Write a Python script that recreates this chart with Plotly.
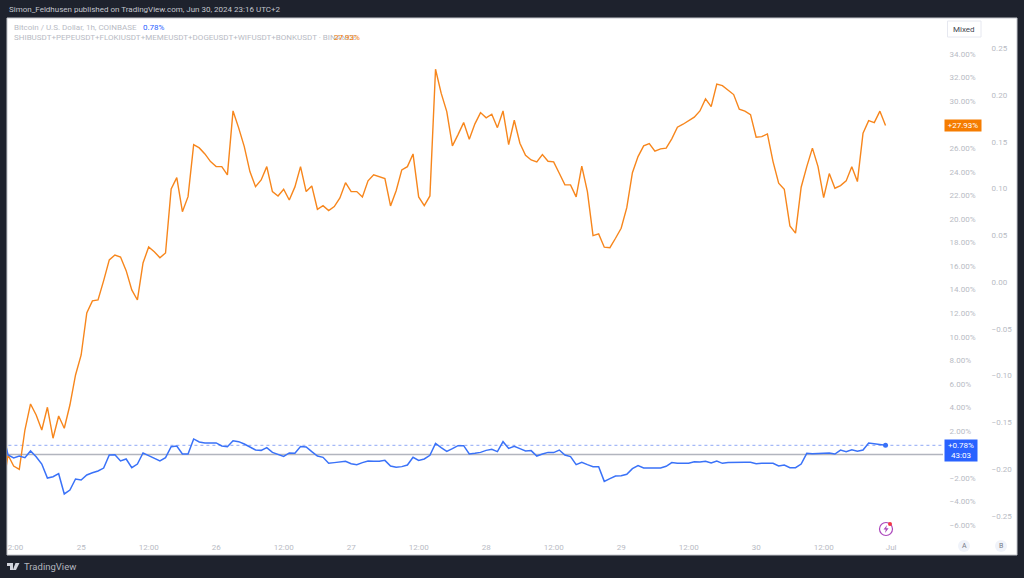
import pandas as pd
import plotly.graph_objects as go

# Percent change series, hourly (first value lies just outside the visible range)
memes_pct = [-3.0,
 -0.04,-0.98,-1.26,2.08,4.29,3.35,2.08,4.01,1.38,3.27,2.23,4.20,6.75,8.45,12.02,13.04,13.12,14.76,16.52,16.94,
 16.77,15.61,13.97,13.12,16.26,17.62,17.22,16.71,17.11,22.55,23.51,20.62,21.89,26.31,26.03,25.52,24.87,24.44,24.44,23.74,
 29.17,27.73,26.14,24.02,22.74,23.31,24.44,22.32,21.95,22.52,21.61,22.72,24.44,22.32,22.80,20.82,21.13,20.71,21.05,21.78,
 23.08,22.32,22.32,21.87,23.23,23.74,23.59,23.42,21.10,22.40,24.16,24.44,25.52,21.87,21.13,21.95,32.71,30.68,29.11,26.20,
 27.16,28.18,26.77,28.07,29.03,28.58,28.89,27.75,29.17,26.31,28.38,26.43,25.41,25.01,24.84,25.46,24.90,24.84,23.88,22.89,
 22.89,21.87,24.48,22.32,18.58,18.73,17.60,17.56,18.36,19.21,20.96,23.93,25.29,26.20,26.40,25.75,25.95,26.01,26.80,27.79,
 28.04,28.32,28.64,29.17,30.19,29.54,31.44,31.32,30.96,30.56,29.32,29.15,28.86,26.94,26.99,27.22,24.87,23.03,22.52,19.41,
 18.79,22.69,24.44,26.01,24.44,21.81,23.85,22.61,22.83,23.23,24.44,23.17,27.28,28.35,28.18,29.15,27.93]

btc_pct = [2.0,
 -0.04,-0.30,-0.13,-0.27,0.30,-0.19,-0.81,-2.00,-1.89,-1.63,-3.35,-3.02,-2.08,-2.17,-1.74,-1.55,-1.40,-1.15,-0.04,-0.02,
 -0.55,-0.38,-1.12,-0.81,0.13,-0.10,-0.30,-0.55,-0.27,0.66,0.72,0.04,0.04,1.32,1.06,0.98,0.98,0.98,0.72,0.66,1.17,1.09,
 0.89,0.61,0.38,0.35,0.58,0.18,-0.01,-0.16,0.13,0.10,0.67,0.64,0.24,-0.13,-0.24,-0.75,-0.69,-0.64,-0.58,-0.78,-0.86,-0.69,
 -0.55,-0.58,-0.58,-0.50,-0.98,-1.09,-1.03,-0.89,-0.24,-0.50,-0.38,-0.07,0.95,0.58,0.27,0.50,0.75,0.75,0.04,0.10,0.18,0.35,
 0.44,0.24,1.09,0.52,0.69,0.50,0.30,0.33,-0.13,0.04,0.18,0.16,0.38,
 -0.04,-0.18,-0.86,-0.66,-0.86,-1.03,-1.03,-2.28,-2.05,-1.83,-1.80,-1.68,-1.20,-0.95,-1.15,-1.17,-1.15,-1.15,-1.00,-0.69,
 -0.75,-0.78,-0.75,-0.61,-0.64,-0.58,-0.72,-0.55,-0.75,-0.69,-0.66,-0.66,-0.66,-0.66,-0.78,-0.75,-0.72,-0.75,-0.98,-0.89,
 -1.12,-1.12,-0.81,0.10,0.07,0.07,0.10,0.13,0.04,0.38,0.24,0.41,0.27,0.38,0.98,0.92,0.86,0.78]

times = pd.date_range("2024-06-24 10:00", periods=len(memes_pct), freq="h")

x_tick_vals = ["2024-06-24 12:20", "2024-06-25 00:00", "2024-06-25 12:00", "2024-06-26 00:00", "2024-06-26 12:00",
               "2024-06-27 00:00", "2024-06-27 12:00", "2024-06-28 00:00", "2024-06-28 12:00", "2024-06-29 00:00",
               "2024-06-29 12:00", "2024-06-30 00:00", "2024-06-30 12:00", "2024-07-01 00:00"]
x_tick_text = ["2:00", "25", "12:00", "26", "12:00", "27", "12:00", "28", "12:00", "29", "12:00", "30", "12:00", "Jul"]
left_ticks = [34, 32, 30, 26, 24, 22, 20, 18, 16, 14, 12, 10, 8, 6, 4, 2, -2, -4, -6]
right_ticks = [0.25, 0.20, 0.15, 0.10, 0.05, 0.00, -0.05, -0.10, -0.15, -0.20, -0.25]

FONT = "Roboto"
DARK = "#1e222d"
TICK = "#b8bbc4"
ORANGE = "#f7861c"
BLUE = "#3a72f8"

L, R, T, B = 7, 1017, 18, 555
def px(x): return (x - L) / (R - L)
def py(y): return 1 - (y - T) / (B - T)

fig = go.Figure()
fig.add_trace(go.Scatter(x=times, y=memes_pct, mode="lines", line=dict(color=ORANGE, width=1.4),
                         hoverinfo="skip", showlegend=False))
fig.add_trace(go.Scatter(x=times, y=btc_pct, mode="lines", line=dict(color=BLUE, width=1.5),
                         hoverinfo="skip", showlegend=False))
fig.add_trace(go.Scatter(x=[times[-1]], y=[btc_pct[-1]], mode="markers", marker=dict(color=BLUE, size=5),
                         hoverinfo="skip", showlegend=False))
# empty series so that the right-hand scale is drawn
fig.add_trace(go.Scatter(x=[times[0]], y=[0], yaxis="y2", mode="none", hoverinfo="skip", showlegend=False))

shapes = [
    dict(type="rect", xref="paper", yref="paper", x0=0, x1=1, y0=0, y1=1, layer="below",
         fillcolor="white", line=dict(color="#c4c6cc", width=1)),
    dict(type="line", xref="x", yref="y", x0="2024-06-24 10:00", x1="2024-07-01 09:13", y0=0, y1=0,
         line=dict(color="#b2b5be", width=1.5), layer="below"),
    dict(type="line", xref="x", yref="y", x0="2024-06-24 10:00", x1="2024-07-01 09:13",
         y0=btc_pct[-1], y1=btc_pct[-1], line=dict(color="#8fa8f5", width=1, dash="dot"), layer="below"),
    # Mixed button
    dict(type="rect", xref="paper", yref="paper", x0=px(947.5), x1=px(981), y0=py(37), y1=py(21),
         fillcolor="white", line=dict(color="#e6e8f0", width=1)),
    # A / B badges
    dict(type="circle", xref="paper", yref="paper", x0=px(958), x1=px(970), y0=py(552), y1=py(540),
         fillcolor="#f0f3fa", line=dict(width=0)),
    dict(type="circle", xref="paper", yref="paper", x0=px(995), x1=px(1007), y0=py(552), y1=py(540),
         fillcolor="#f0f3fa", line=dict(width=0)),
    # replay/lightning badge
    dict(type="circle", xref="paper", yref="paper", x0=px(879.5), x1=px(892.5), y0=py(535.5), y1=py(522.5),
         fillcolor="white", line=dict(color="#ab47bc", width=1.2)),
    dict(type="circle", xref="paper", yref="paper", x0=px(888), x1=px(892), y0=py(526), y1=py(522),
         fillcolor="#f23645", line=dict(width=0)),
    dict(type="path", xref="paper", yref="paper", fillcolor="#ab47bc", line=dict(width=0),
         path=f"M {px(887)} {py(525)} L {px(883.5)} {py(529.5)} L {px(885.8)} {py(529.5)} L {px(885)} {py(533)} "
              f"L {px(888.6)} {py(528.2)} L {px(886.2)} {py(528.2)} Z"),
    # TradingView logo
    dict(type="path", xref="paper", yref="paper", fillcolor="#d1d4dc", line=dict(width=0),
         path=f"M {px(7)} {py(563)} L {px(13)} {py(563)} L {px(13)} {py(570)} L {px(10)} {py(570)} "
              f"L {px(10)} {py(566)} L {px(7)} {py(566)} Z"),
    dict(type="path", xref="paper", yref="paper", fillcolor="#d1d4dc", line=dict(width=0),
         path=f"M {px(15.5)} {py(563)} L {px(19.5)} {py(563)} L {px(16)} {py(570)} L {px(12.8)} {py(570)} Z"),
]

def note(x, y, text, color=TICK, size=8, **kw):
    return dict(xref="paper", yref="paper", x=px(x), y=py(y), text=text, showarrow=False,
                xanchor=kw.pop("xanchor", "left"), yanchor="middle",
                font=dict(family=FONT, size=size, color=color), **kw)

annotations = [
    note(7, 9, "Simon_Feldhusen published on TradingView.com, Jun 30, 2024 23:16 UTC+2", color="#c3c6ce", size=8),
    note(11.5, 27, "Bitcoin / U.S. Dollar, 1h, COINBASE"),
    note(141, 27, "0.78%", color="#2962ff"),
    note(11.5, 38, "SHIBUSDT+PEPEUSDT+FLOKIUSDT+MEMEUSDT+DOGEUSDT+WIFUSDT+BONKUSDT · BINANCE"),
    note(332, 38, "27.93%", color="#f57c00"),
    note(964.2, 29, "Mixed", color="#434651", size=8, xanchor="center"),
    note(964, 546, "A", color="#787b86", size=7, xanchor="center"),
    note(1001, 546, "B", color="#787b86", size=7, xanchor="center"),
    note(22, 566, "TradingView", color="#b2b5be", size=9.5),
    dict(xref="paper", yref="y", x=px(944), y=memes_pct[-1], text="+27.93%", showarrow=False,
         xanchor="left", yanchor="middle", width=36, height=11, bgcolor="#f57c00", borderpad=0, align="center",
         font=dict(family=FONT, size=8, color="white")),
    dict(xref="paper", yref="paper", x=px(944), y=py(450.5), text="+0.78%<br>43:03", showarrow=False,
         xanchor="left", yanchor="middle", width=32, height=21, bgcolor="#2962ff", borderpad=0, align="center",
         font=dict(family=FONT, size=8, color="white")),
]

fig.update_layout(
    width=1024, height=578,
    margin=dict(l=L, r=1024 - R, t=T, b=578 - B, autoexpand=False),
    paper_bgcolor=DARK, plot_bgcolor="white",
    showlegend=False, shapes=shapes, annotations=annotations,
    font=dict(family=FONT, size=8, color=TICK),
    xaxis=dict(domain=[0, px(943)], type="date", range=["2024-06-24 10:49", "2024-07-01 09:13"],
               tickmode="array", tickvals=x_tick_vals, ticktext=x_tick_text, showgrid=False, zeroline=False,
               showline=False, ticks="outside", ticklen=3, tickcolor="rgba(0,0,0,0)", tickangle=0,
               tickfont=dict(family=FONT, size=8, color=TICK), fixedrange=True),
    yaxis=dict(domain=[py(536), 1], range=[-6.92, 37.06], side="right", anchor="x",
               tickmode="array", tickvals=left_ticks,
               ticktext=[f"{v:.2f}%".replace("-", "\u2212") for v in left_ticks],
               showgrid=False, zeroline=False, showline=False, ticks="outside", ticklen=4,
               tickcolor="rgba(0,0,0,0)", tickfont=dict(family=FONT, size=8, color=TICK), fixedrange=True),
    yaxis2=dict(domain=[py(536), 1], range=[-0.2717, 0.2824], side="right", overlaying="y", anchor="free",
                position=px(985), tickmode="array", tickvals=right_ticks,
                ticktext=[f"{v:.2f}".replace("-", "\u2212") for v in right_ticks],
                showgrid=False, zeroline=False, showline=False, ticks="outside", ticklen=4,
                tickcolor="rgba(0,0,0,0)", tickfont=dict(family=FONT, size=8, color=TICK), fixedrange=True),
)

fig.write_html("out.html", config={"displayModeBar": False},
               post_script="document.body.style.margin='0';document.body.style.overflow='hidden';")
